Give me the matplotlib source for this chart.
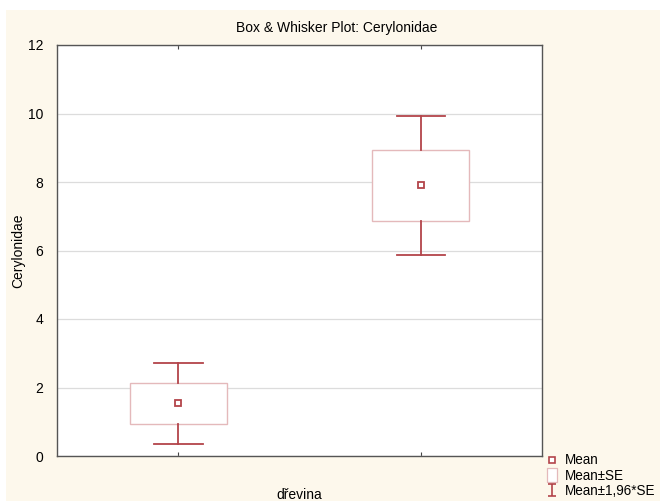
import matplotlib
matplotlib.use("Agg")
from matplotlib import pyplot as plt
from matplotlib.patches import Rectangle
from matplotlib.lines import Line2D
from matplotlib.path import Path

plt.rcParams['font.family'] = ['Liberation Sans', 'DejaVu Sans']

groups = ['', '']
means = [1.54, 7.90]
se = [0.605, 1.03]
ci_factor = 1.96

dark_red = '#b3444a'
pale_red = '#e4b9bb'
cream = '#fdf8ec'

fig = plt.figure(figsize=(6.6, 5.01), dpi=100, facecolor='white')
fig.patches.append(Rectangle((6 / 660, 0), 1, 1 - 10 / 501, transform=fig.transFigure,
                             facecolor=cream, edgecolor='none', zorder=-10))

ax = fig.add_axes([57 / 660, 1 - 456 / 501, 485 / 660, 411 / 501])
ax.set_facecolor('white')

box_w = 0.4
cap_w = 0.2
for i, (m, s) in enumerate(zip(means, se)):
    x = i + 1
    ax.add_patch(Rectangle((x - box_w / 2, m - s), box_w, 2 * s,
                           facecolor='white', edgecolor=pale_red, lw=1.0, zorder=3))
    lo, hi = m - ci_factor * s, m + ci_factor * s
    ax.plot([x, x], [hi, m + s], color=dark_red, lw=1.3, zorder=4)
    ax.plot([x, x], [m - s, lo], color=dark_red, lw=1.3, zorder=4)
    ax.plot([x - cap_w / 2, x + cap_w / 2], [hi, hi], color=dark_red, lw=1.3, zorder=4)
    ax.plot([x - cap_w / 2, x + cap_w / 2], [lo, lo], color=dark_red, lw=1.3, zorder=4)
    ax.plot([x], [m], marker='s', ms=5, mfc='white', mec=dark_red, mew=1.3,
            ls='none', zorder=5)

ax.set_xlim(0.5, 2.5)
ax.set_ylim(0, 12)
ax.set_xticks([1, 2])
ax.set_xticklabels(groups)
ax.set_yticks(range(0, 13, 2))
ax.yaxis.grid(True, color='#dcdcdc', lw=0.9)
ax.set_axisbelow(True)
ax.tick_params(axis='x', direction='in', length=3, top=True, color='#444444')
ax.tick_params(axis='y', direction='in', length=0, labelsize=10, pad=10)
for sp in ax.spines.values():
    sp.set_color('#555555')
    sp.set_linewidth(1.0)

fig.text(337 / 660, 1 - 28 / 501, 'Box & Whisker Plot: Cerylonidae', fontsize=10,
         ha='center', va='center')
ax.set_ylabel('Cerylonidae', fontsize=10)
ax.yaxis.set_label_coords(-0.066, 0.5)
ax.set_xlabel('dřevina', fontsize=10, va='top')
ax.xaxis.set_label_coords(0.5, -0.077)

# legend symbols: tall open box for SE, I-shape for the 1.96*SE whiskers
box_marker = Path([(-0.32, -0.5), (0.32, -0.5), (0.32, 0.5), (-0.32, 0.5), (-0.32, -0.5)],
                  [Path.MOVETO, Path.LINETO, Path.LINETO, Path.LINETO, Path.CLOSEPOLY])
i_marker = Path([(-0.4, 0.5), (0.4, 0.5), (0, 0.5), (0, -0.5), (-0.4, -0.5), (0.4, -0.5)],
                [Path.MOVETO, Path.LINETO, Path.MOVETO, Path.LINETO, Path.MOVETO, Path.LINETO])
handles = [
    Line2D([], [], marker='s', ms=3.8, mfc='white', mec=dark_red, mew=1.2, ls='none'),
    Line2D([], [], marker=box_marker, ms=10.5, mfc='white', mec=pale_red, mew=0.9, ls='none'),
    Line2D([], [], marker=i_marker, ms=8, mfc='none', mec=dark_red, mew=1.2, ls='none'),
]
fig.legend(handles, ['Mean', 'Mean±SE', 'Mean±1,96*SE'], loc='upper left',
           bbox_to_anchor=(536 / 660, 1 - 444 / 501), frameon=False, fontsize=9.75,
           handlelength=1.0, handletextpad=0.4, labelspacing=0.1, borderpad=0.2)

fig.savefig('out.png', dpi=100, facecolor=fig.get_facecolor())
